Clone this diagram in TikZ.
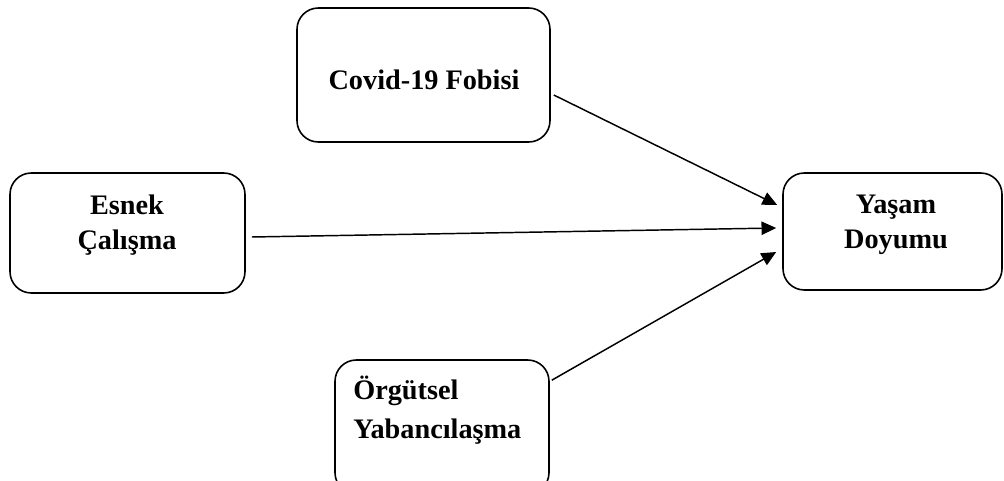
\documentclass[tikz,border=0pt]{standalone}
\usepackage{fontspec}
\setmainfont{Liberation Serif}
\usetikzlibrary{arrows.meta,calc}
\begin{document}
\begin{tikzpicture}[x=0.75pt,y=-0.75pt,
  box/.style={draw,line width=1.2pt,rounded corners=16pt,inner sep=0pt},
  lbl/.style={font=\fontsize{21.2}{26.5}\selectfont\bfseries,inner sep=0pt},
  arr/.style={line width=1.1pt,-{Triangle[length=11pt,width=10pt]}}]
\useasboundingbox (0,0) rectangle (1004,481);
\begin{scope}
\clip (0,0) rectangle (1004,481);
\node[box,minimum width=253*0.75pt,minimum height=134*0.75pt] (covid) at (423.5,75) {};
\node[box,minimum width=235*0.75pt,minimum height=120*0.75pt] (esnek) at (127.5,233) {};
\node[box,minimum width=219*0.75pt,minimum height=117*0.75pt] (yasam) at (892.5,231.5) {};
\node[box,minimum width=214*0.75pt,minimum height=134*0.75pt] (orgut) at (442,427) {};
\end{scope}
\node[lbl] (tcovid) at (424,80) {Covid-19 Fobisi};
\node[lbl,align=center] (tesnek) at (127,225) {Esnek\\Çalışma};
\node[lbl,align=center] (tyasam) at (896,225) {Yaşam\\Doyumu};
\node[lbl,font=\fontsize{21.2}{29}\selectfont\bfseries,align=left,anchor=west] (torgut) at (353,410) {Örgütsel\\Yabancılaşma};
\draw[arr] ([shift={(3,20)}]covid.east) -- ([shift={(-5,-26.5)}]yasam.west);
\draw[arr] ([shift={(6,4)}]esnek.east) -- ([shift={(-6,-3.5)}]yasam.west);
\draw[arr] ([shift={(2,21)}]orgut.north east) -- ([shift={(-6,20.5)}]yasam.west);
\end{tikzpicture}
\end{document}
